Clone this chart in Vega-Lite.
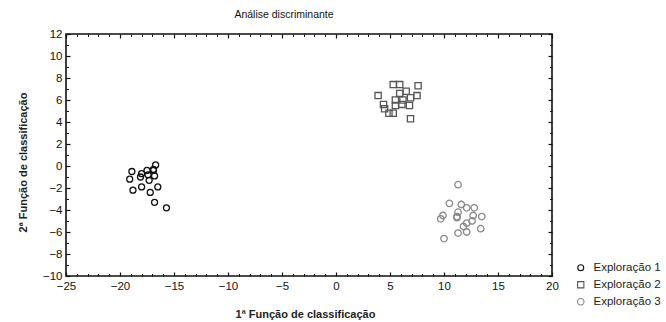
{
  "$schema": "https://vega.github.io/schema/vega-lite/v6.json",
  "width": 486,
  "height": 242,
  "autosize": {"type": "none"},
  "padding": {"left": 66, "top": 34, "right": 114, "bottom": 46},
  "background": "white",
  "title": {"text": "Análise discriminante", "font": "Liberation Sans", "fontSize": 10.5, "fontWeight": "normal", "color": "#111", "offset": 8, "dx": -25},
  "config": {"view": {"stroke": "#111", "strokeWidth": 1.6}, "font": "Liberation Sans"},
  "data": {"values": [
    {"g": "Exploração 1", "f1": -18.9, "f2": -0.5},
    {"g": "Exploração 1", "f1": -19.1, "f2": -1.2},
    {"g": "Exploração 1", "f1": -18.8, "f2": -2.2},
    {"g": "Exploração 1", "f1": -18.0, "f2": -1.9},
    {"g": "Exploração 1", "f1": -18.0, "f2": -0.7},
    {"g": "Exploração 1", "f1": -17.5, "f2": -0.4},
    {"g": "Exploração 1", "f1": -17.4, "f2": -0.8},
    {"g": "Exploração 1", "f1": -17.3, "f2": -1.3},
    {"g": "Exploração 1", "f1": -18.1, "f2": -1.0},
    {"g": "Exploração 1", "f1": -16.9, "f2": -0.3},
    {"g": "Exploração 1", "f1": -16.7, "f2": 0.1},
    {"g": "Exploração 1", "f1": -16.8, "f2": -0.9},
    {"g": "Exploração 1", "f1": -17.2, "f2": -2.4},
    {"g": "Exploração 1", "f1": -16.5, "f2": -1.9},
    {"g": "Exploração 1", "f1": -16.8, "f2": -3.3},
    {"g": "Exploração 1", "f1": -15.7, "f2": -3.8},
    {"g": "Exploração 1", "f1": -16.9, "f2": -0.4},
    {"g": "Exploração 2", "f1": 3.9, "f2": 6.4},
    {"g": "Exploração 2", "f1": 5.3, "f2": 7.4},
    {"g": "Exploração 2", "f1": 5.9, "f2": 7.4},
    {"g": "Exploração 2", "f1": 7.6, "f2": 7.3},
    {"g": "Exploração 2", "f1": 6.5, "f2": 6.8},
    {"g": "Exploração 2", "f1": 5.9, "f2": 6.6},
    {"g": "Exploração 2", "f1": 7.5, "f2": 6.4},
    {"g": "Exploração 2", "f1": 6.9, "f2": 6.2},
    {"g": "Exploração 2", "f1": 5.5, "f2": 6.0},
    {"g": "Exploração 2", "f1": 6.1, "f2": 5.6},
    {"g": "Exploração 2", "f1": 6.8, "f2": 5.5},
    {"g": "Exploração 2", "f1": 4.4, "f2": 5.6},
    {"g": "Exploração 2", "f1": 5.5, "f2": 5.5},
    {"g": "Exploração 2", "f1": 4.5, "f2": 5.2},
    {"g": "Exploração 2", "f1": 4.9, "f2": 4.8},
    {"g": "Exploração 2", "f1": 5.3, "f2": 4.8},
    {"g": "Exploração 2", "f1": 6.9, "f2": 4.3},
    {"g": "Exploração 2", "f1": 6.2, "f2": 6.0},
    {"g": "Exploração 3", "f1": 11.3, "f2": -1.7},
    {"g": "Exploração 3", "f1": 10.5, "f2": -3.4},
    {"g": "Exploração 3", "f1": 11.6, "f2": -3.5},
    {"g": "Exploração 3", "f1": 12.1, "f2": -3.8},
    {"g": "Exploração 3", "f1": 12.8, "f2": -3.8},
    {"g": "Exploração 3", "f1": 11.3, "f2": -4.2},
    {"g": "Exploração 3", "f1": 11.2, "f2": -4.6},
    {"g": "Exploração 3", "f1": 9.9, "f2": -4.5},
    {"g": "Exploração 3", "f1": 9.7, "f2": -4.8},
    {"g": "Exploração 3", "f1": 12.7, "f2": -4.5},
    {"g": "Exploração 3", "f1": 13.5, "f2": -4.6},
    {"g": "Exploração 3", "f1": 12.6, "f2": -5.0},
    {"g": "Exploração 3", "f1": 12.1, "f2": -5.2},
    {"g": "Exploração 3", "f1": 11.8, "f2": -5.5},
    {"g": "Exploração 3", "f1": 12.1, "f2": -6.0},
    {"g": "Exploração 3", "f1": 11.3, "f2": -6.1},
    {"g": "Exploração 3", "f1": 13.4, "f2": -5.7},
    {"g": "Exploração 3", "f1": 10.0, "f2": -6.6},
    {"g": "Exploração 3", "f1": 11.2, "f2": -4.7}
  ]},
  "layer": [
    {
      "mark": {"type": "point", "filled": false, "strokeWidth": 1.3, "opacity": 1},
      "encoding": {
        "x": {"field": "f1", "type": "quantitative", "scale": {"domain": [-25, 20], "nice": false, "zero": false},
          "axis": {"orient": "bottom", "values": [-25, -20, -15, -10, -5, 0, 5, 10, 15, 20], "title": "1ª Função de classificação", "titleFont": "Liberation Sans", "titleFontSize": 11, "titleFontWeight": "bold", "titleColor": "#222", "titlePadding": 17, "titleX": 239, "labelFont": "Liberation Sans", "labelFontSize": 11.5, "labelColor": "#111", "labelPadding": 8, "tickSize": -4, "tickColor": "#111", "tickWidth": 1.2, "domain": false, "grid": false, "labelFlush": false}},
        "y": {"field": "f2", "type": "quantitative", "scale": {"domain": [-10, 12], "nice": false, "zero": false},
          "axis": {"orient": "left", "values": [-10, -8, -6, -4, -2, 0, 2, 4, 6, 8, 10, 12], "title": "2ª Função de classificação", "titleFont": "Liberation Sans", "titleFontSize": 11, "titleFontWeight": "bold", "titleColor": "#222", "titlePadding": 14, "titleY": 128, "labelFont": "Liberation Sans", "labelFontSize": 11.5, "labelColor": "#111", "labelPadding": 8, "tickSize": -4, "tickColor": "#111", "tickWidth": 1.2, "domain": false, "grid": false, "labelFlush": false}},
        "color": {"field": "g", "type": "nominal", "scale": {"domain": ["Exploração 1", "Exploração 2", "Exploração 3"], "range": ["#111111", "#555555", "#888888"]},
          "legend": {"title": null, "orient": "none", "legendX": 509, "legendY": 228, "labelFont": "Liberation Sans", "labelFontSize": 11.5, "labelColor": "#222", "labelOffset": 7, "labelLimit": 200, "rowPadding": 4, "symbolSize": 30, "symbolStrokeWidth": 1.1}},
        "shape": {"field": "g", "type": "nominal", "scale": {"domain": ["Exploração 1", "Exploração 2", "Exploração 3"], "range": ["circle", "square", "circle"]}},
        "size": {"field": "g", "type": "nominal", "scale": {"domain": ["Exploração 1", "Exploração 2", "Exploração 3"], "range": [36, 42, 20]}}
      }
    },
    {
      "mark": {"type": "point", "opacity": 0},
      "encoding": {
        "x": {"field": "f1", "type": "quantitative", "axis": {"orient": "top", "values": [-25, -20, -15, -10, -5, 0, 5, 10, 15, 20], "labels": false, "title": null, "tickSize": -4, "tickColor": "#111", "tickWidth": 1.2, "domain": false, "grid": false}},
        "y": {"field": "f2", "type": "quantitative", "axis": {"orient": "right", "values": [-10, -8, -6, -4, -2, 0, 2, 4, 6, 8, 10, 12], "labels": false, "title": null, "tickSize": -4, "tickColor": "#111", "tickWidth": 1.2, "domain": false, "grid": false}}
      }
    },
    {
      "mark": {"type": "point", "opacity": 0},
      "encoding": {
        "x": {"field": "f1", "type": "quantitative", "axis": {"orient": "bottom", "values": [-24, -23, -22, -21, -19, -18, -17, -16, -14, -13, -12, -11, -9, -8, -7, -6, -4, -3, -2, -1, 1, 2, 3, 4, 6, 7, 8, 9, 11, 12, 13, 14, 16, 17, 18, 19], "labels": false, "title": null, "tickSize": -2.5, "tickColor": "#111", "tickWidth": 1, "domain": false, "grid": false}},
        "y": {"field": "f2", "type": "quantitative", "axis": {"orient": "left", "values": [-9, -7, -5, -3, -1, 1, 3, 5, 7, 9, 11], "labels": false, "title": null, "tickSize": -2.5, "tickColor": "#111", "tickWidth": 1, "domain": false, "grid": false}}
      }
    },
    {
      "mark": {"type": "point", "opacity": 0},
      "encoding": {
        "x": {"field": "f1", "type": "quantitative", "axis": {"orient": "top", "values": [-24, -23, -22, -21, -19, -18, -17, -16, -14, -13, -12, -11, -9, -8, -7, -6, -4, -3, -2, -1, 1, 2, 3, 4, 6, 7, 8, 9, 11, 12, 13, 14, 16, 17, 18, 19], "labels": false, "title": null, "tickSize": -2.5, "tickColor": "#111", "tickWidth": 1, "domain": false, "grid": false}},
        "y": {"field": "f2", "type": "quantitative", "axis": {"orient": "right", "values": [-9, -7, -5, -3, -1, 1, 3, 5, 7, 9, 11], "labels": false, "title": null, "tickSize": -2.5, "tickColor": "#111", "tickWidth": 1, "domain": false, "grid": false}}
      }
    }
  ],
  "resolve": {"axis": {"x": "independent", "y": "independent"}}
}
